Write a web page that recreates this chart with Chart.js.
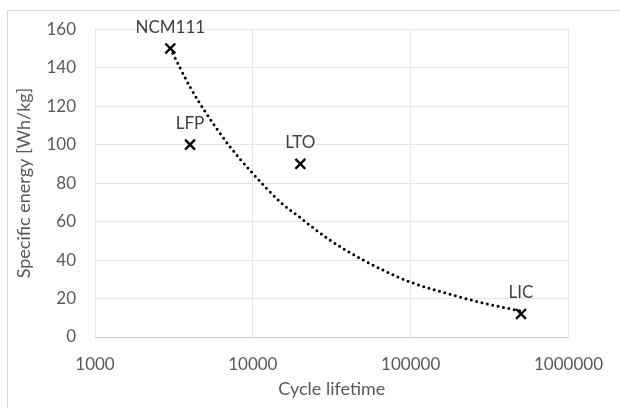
<!DOCTYPE html>
<html>
<head>
<meta charset="utf-8">
<script src="https://cdn.jsdelivr.net/npm/chart.js@4/dist/chart.umd.min.js"></script>
<style>
  html, body { margin: 0; padding: 0; background: #fff; }
  #wrap { width: 620px; height: 408px; position: relative; }
</style>
</head>
<body>
<div id="wrap"><canvas id="chart" width="620" height="408"></canvas></div>
<script>
// battery chemistries and their values
const materials = ["NCM111", "LFP", "LTO", "LIC"];
const cycleLife = [3000, 4000, 20000, 500000];
const specificEnergy = [150, 100, 90, 12];

// dotted trend line
const trendCycles = [3000, 4000, 5000, 7000, 10000, 15000, 20000, 30000, 50000, 70000, 100000, 200000, 300000, 500000];
const trendEnergy = [150, 130, 117, 100, 85, 70, 62, 51, 40, 34, 28.5, 21, 17.3, 13.5];

const xTicks = [1000, 10000, 100000, 1000000];
const yTicks = [0, 20, 40, 60, 80, 100, 120, 140, 160];

const FONT = "Lato, 'Open Sans', sans-serif";

// outer frame like the exported sheet
const framePlugin = {
  id: "frame",
  beforeDraw(chart) {
    const ctx = chart.ctx;
    ctx.save();
    ctx.fillStyle = "#fff";
    ctx.fillRect(0, 0, chart.width, chart.height);
    ctx.strokeStyle = "#d9d9d9";
    ctx.lineWidth = 1;
    ctx.strokeRect(7.5, 10.5, 700, 500);
    ctx.restore();
  }
};

// text labels above each marker
const pointLabels = {
  id: "pointLabels",
  afterDatasetsDraw(chart) {
    const meta = chart.getDatasetMeta(1);
    const ctx = chart.ctx;
    ctx.save();
    ctx.font = "17px " + FONT;
    ctx.fillStyle = "#404040";
    ctx.textAlign = "center";
    ctx.textBaseline = "middle";
    meta.data.forEach((pt, i) => {
      ctx.fillText(materials[i], pt.x, pt.y - 21);
    });
    ctx.restore();
  }
};

new Chart(document.getElementById("chart"), {
  type: "scatter",
  data: {
    datasets: [
      {
        label: "trend",
        data: trendCycles.map((x, i) => ({ x: x, y: trendEnergy[i] })),
        showLine: true,
        borderColor: "#000",
        borderWidth: 3,
        borderDash: [0, 5.5],
        borderCapStyle: "round",
        pointRadius: 0,
        cubicInterpolationMode: "monotone",
        fill: false
      },
      {
        label: "cells",
        data: cycleLife.map((x, i) => ({ x: x, y: specificEnergy[i] })),
        pointStyle: "crossRot",
        pointRadius: 7,
        pointBorderWidth: 2.3,
        borderColor: "#000",
        backgroundColor: "#000"
      }
    ]
  },
  options: {
    responsive: false,
    animation: false,
    layout: { padding: { top: 27, right: 41.5, bottom: 0, left: 0 } },
    plugins: {
      legend: { display: false },
      tooltip: { enabled: false }
    },
    scales: {
      x: {
        type: "logarithmic",
        min: 1000,
        max: 1000000,
        afterBuildTicks: scale => { scale.ticks = xTicks.map(v => ({ value: v })); },
        afterFit: scale => { scale.height = 71; },
        ticks: {
          callback: v => String(v),
          color: "#595959",
          font: { family: FONT, size: 17 },
          padding: 17,
          maxRotation: 0,
          autoSkip: false
        },
        grid: { color: "#e6e6e6", drawTicks: false },
        border: { display: false },
        title: {
          display: true,
          text: "Cycle lifetime",
          color: "#595959",
          font: { family: FONT, size: 18 },
          padding: { top: 0, bottom: 8 }
        }
      },
      y: {
        min: 0,
        max: 160,
        afterBuildTicks: scale => { scale.ticks = yTicks.map(v => ({ value: v })); },
        afterFit: scale => { scale.width = 95; },
        ticks: {
          color: "#595959",
          font: { family: FONT, size: 17 },
          padding: 19
        },
        grid: {
          color: ctx => (ctx.tick && ctx.tick.value === 0 ? "#d0d0d0" : "#e6e6e6"),
          drawTicks: false
        },
        border: { display: false },
        title: {
          display: true,
          text: "Specific energy [Wh/kg]",
          color: "#595959",
          font: { family: FONT, size: 18 },
          padding: { top: 13, bottom: 0 }
        }
      }
    }
  },
  plugins: [framePlugin, pointLabels]
});
</script>
</body>
</html>
